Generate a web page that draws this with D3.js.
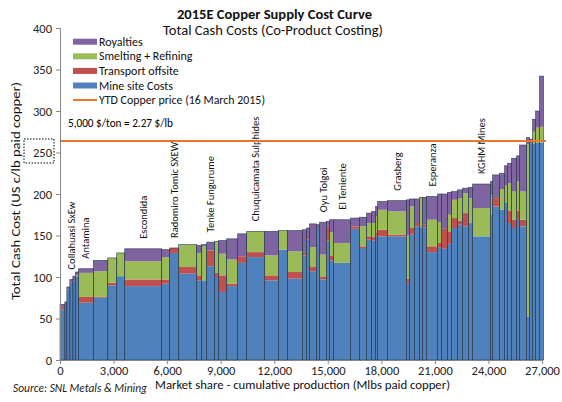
<!DOCTYPE html>
<html><head><meta charset="utf-8">
<script src="https://cdn.jsdelivr.net/npm/d3@7"></script>
<style>body{margin:0;background:#fff}svg{display:block}text{font-family:Carlito,Calibri,Lato,"Open Sans",sans-serif}</style>
</head><body><svg id="c" width="562" height="402"></svg>
<script>
// Production (Mlbs paid copper) per mine, ordered along the cost curve
const production = [270,112,168,168,140,174,840,800,504,448,2072,448,504,1008,280,280,448,224,448,616,504,1008,784,504,840,224,168,392,168,392,168,224,952,504,392,280,224,112,560,1064,168,280,280,168,224,616,224,336,224,336,280,336,224,1008,112,392,280,168,224,280,168,392,168,168,168,224,224];
const mineSite  = [61,64,85,93,96,100,69,75,90,101,89,92,129,104,96,96,113,100,82,89,117,124,96,133,98,126,145,107,159,97,144,120,117,158,135,145,144,150,149,149,92,151,161,160,160,130,136,134,140,159,163,161,165,149,175,185,181,190,165,159,170,161,52,261,261,262,262];
const transport = [3,2,0,2,0,0,7,1,3,0,8,5,6,8,6,0,19,5,20,3,8,6,6,0,8,3,2,5,0,3,18,6,0,3,2,4,4,3,8,2,6,8,4,0,3,7,5,24,15,12,5,16,0,0,0,10,0,0,15,10,10,8,0,0,0,0,0];
const smelting  = [0,0,0,0,0,2,29,31,30,28,22,27,0,27,27,41,0,38,26,29,0,25,24,23,25,0,0,24,0,27,0,28,24,0,24,16,17,20,24,28,52,26,0,36,0,32,25,0,20,22,27,24,30,34,25,0,25,20,33,34,35,34,208,0,14,18,19];
const royalties = [3,4,3,2,5,4,5,13,0,0,15,9,0,0,9,2,10,0,16,25,27,0,29,0,25,28,12,28,4,39,5,15,28,10,11,12,14,12,10,13,43,9,29,0,33,28,34,42,27,10,10,6,13,29,15,28,19,24,24,40,31,56,8,5,15,20,61];
const mineNames = ["","","","Collahuasi SxEw","","","Antamina","","","","Escondida","","Radomiro Tomic SXEW","","","","Tenke Fungurume","","","","","Chuquicamata Sulphides","","","","","","","","Oyu Tolgoi","","","El Teniente","","","","","","","Grasberg","","","","","","Esperanza","","","","","","","","KGHM Mines","","","","","","","","","","","","",""];
const yTicks = [0,50,100,150,200,250,300,350,400];
const xTicks = [0,3000,6000,9000,12000,15000,18000,21000,24000,27000];
const copperPrice = 264;
const seriesNames = ["Royalties","Smelting + Refining","Transport offsite","Mine site Costs"];
const priceName = "YTD Copper price (16 March 2015)";

const colors = {mine:"#4F81BD", transport:"#C0504D", smelting:"#9BBB59", royalties:"#8064A2"};
const svg = d3.select("#c");
const x = d3.scaleLinear().domain([0,27000]).range([60,542]);
const y = d3.scaleLinear().domain([0,400]).range([360,28]);

const cum = [0, ...d3.cumsum(production)];
const table = production.map((w,i)=>({i, x0:cum[i], x1:cum[i+1], mine:mineSite[i], transport:transport[i], smelting:smelting[i], royalties:royalties[i], name:mineNames[i]}));
const keys = ["mine","transport","smelting","royalties"];
const stack = d3.stack().keys(keys)(table);
const total = d => d.mine+d.transport+d.smelting+d.royalties;

const g = svg.append("g");
stack.forEach(layer=>{
  g.append("g").attr("fill", colors[layer.key]).selectAll("rect").data(layer).join("rect")
    .attr("x", d=>x(d.data.x0)).attr("width", d=>x(d.data.x1)-x(d.data.x0))
    .attr("y", d=>y(d[1])).attr("height", d=>Math.max(0, y(d[0])-y(d[1])));
});
// bar outlines
g.append("g").selectAll("rect").data(table).join("rect")
  .attr("x", d=>x(d.x0)).attr("width", d=>x(d.x1)-x(d.x0))
  .attr("y", d=>y(total(d))).attr("height", d=>y(0)-y(total(d)))
  .attr("fill","none").attr("stroke","#26364a").attr("stroke-width",0.7).attr("stroke-opacity",0.8);

// price line
svg.append("line").attr("x1",60).attr("x2",546).attr("y1",y(copperPrice)).attr("y2",y(copperPrice))
  .attr("stroke","#E8772E").attr("stroke-width",2);

// axes
const ya = svg.append("g").attr("transform","translate(60,0)").call(d3.axisLeft(y).tickValues(yTicks).tickSize(4).tickPadding(4));
const xa = svg.append("g").attr("transform","translate(0,360)").call(d3.axisBottom(x).tickValues(xTicks).tickSize(4).tickPadding(2).tickFormat(d3.format(",")));
[ya,xa].forEach(a=>{a.selectAll("path,line").attr("stroke","#868686");a.selectAll("text").attr("font-size",12.5).attr("fill","#222").attr("font-family","Carlito,Calibri,Lato,sans-serif");});

// mine labels
g.append("g").selectAll("text").data(table.filter(d=>d.name)).join("text")
  .attr("transform", d=>`translate(${(x(d.x0)+x(d.x1))/2+3.5},${y(total(d))-10}) rotate(-90)`)
  .attr("font-size",10.5).attr("fill","#111").text(d=>d.name);

// titles
svg.append("text").attr("x",177).attr("y",19).attr("font-size",13.5).attr("font-weight","bold").attr("fill","#111").attr("textLength",195).attr("lengthAdjust","spacingAndGlyphs").text("2015E Copper Supply Cost Curve");
svg.append("text").attr("x",163).attr("y",35).attr("font-size",13.5).attr("fill","#111").attr("textLength",220).attr("lengthAdjust","spacingAndGlyphs").text("Total Cash Costs (Co-Product Costing)");
svg.append("text").attr("transform","translate(20,300) rotate(-90)").attr("font-size",12).attr("fill","#111").attr("textLength",218).attr("lengthAdjust","spacingAndGlyphs").text("Total Cash Cost (US c/lb paid copper)");
svg.append("text").attr("x",155).attr("y",389).attr("font-size",12).attr("fill","#111").attr("textLength",295).attr("lengthAdjust","spacingAndGlyphs").text("Market share - cumulative production (Mlbs paid copper)");
svg.append("text").attr("x",13).attr("y",392).attr("font-size",11.5).attr("font-style","italic").attr("fill","#222").attr("textLength",134).attr("lengthAdjust","spacingAndGlyphs").text("Source: SNL Metals & Mining");
svg.append("text").attr("x",68).attr("y",127).attr("font-size",12.5).attr("fill","#000").attr("font-family","'Liberation Sans Narrow','Arial Narrow',sans-serif").attr("textLength",105).attr("lengthAdjust","spacingAndGlyphs").text("5,000 $/ton = 2.27 $/lb");
svg.append("rect").attr("x",24).attr("y",139).attr("width",30).attr("height",24).attr("fill","none").attr("stroke","#000").attr("stroke-width",1).attr("stroke-dasharray","1.5,1.5");

// legend
const legCol = [colors.royalties, colors.smelting, colors.transport, colors.mine];
const lg = svg.append("g");
seriesNames.forEach((n,i)=>{
  const yy = 41.7 + i*14.6;
  lg.append("rect").attr("x",73).attr("y",yy-3).attr("width",24).attr("height",6).attr("fill",legCol[i]);
  lg.append("text").attr("x",99).attr("y",yy+4).attr("font-size",12).attr("fill","#111").text(n);
});
lg.append("line").attr("x1",73).attr("x2",97).attr("y1",100).attr("y2",100).attr("stroke","#E8772E").attr("stroke-width",2);
lg.append("text").attr("x",99).attr("y",104).attr("font-size",12).attr("fill","#111").attr("textLength",166).attr("lengthAdjust","spacingAndGlyphs").text(priceName);
</script></body></html>
